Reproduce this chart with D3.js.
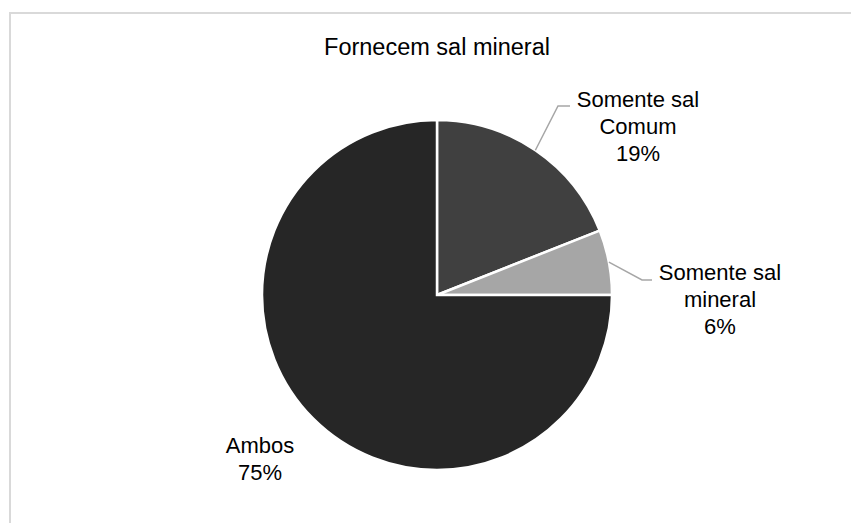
<!DOCTYPE html>
<html>
<head>
<meta charset="utf-8">
<script src="https://cdn.jsdelivr.net/npm/d3@7"></script>
<style>
  body { margin: 0; background: #fff; }
  text { font-family: "Liberation Sans", Arial, sans-serif; fill: #000; }
</style>
</head>
<body>
<script>
// Data
var categories = ["Somente sal Comum", "Somente sal mineral", "Ambos"];
var labelLines = [["Somente sal", "Comum"], ["Somente sal", "mineral"], ["Ambos"]];
var values = [19, 6, 75];
var colors = ["#404040", "#a6a6a6", "#262626"];

var width = 851, height = 523;
var cx = 437, cy = 295, radius = 175;

// label placement (center x, first baseline y) and whether a leader line is drawn
var labelPos = [
  { x: 638, y: 107, leader: true, elbow: [558, 106], end: 570 },
  { x: 720, y: 280, leader: true, elbow: [642, 280], end: 652 },
  { x: 260, y: 453, leader: false }
];
var lineH = 27;

var svg = d3.select("body")
  .append("svg")
  .attr("width", width)
  .attr("height", height);

// chart frame (only top and left edges visible)
svg.append("path")
  .attr("d", "M10,523 L10,13 L851,13")
  .style("fill", "none")
  .style("stroke", "#d9d9d9")
  .style("stroke-width", 2);

svg.append("text")
  .attr("x", cx)
  .attr("y", 55)
  .attr("text-anchor", "middle")
  .style("font-size", "23.5px")
  .text("Fornecem sal mineral");

var pie = d3.pie().sort(null).value(function(d) { return d; });
var arc = d3.arc().innerRadius(0).outerRadius(radius);
var arcs = pie(values);

var g = svg.append("g")
  .attr("transform", "translate(" + cx + "," + cy + ")");

g.selectAll("path.slice")
  .data(arcs)
  .enter()
  .append("path")
  .attr("class", "slice")
  .attr("d", arc)
  .style("fill", function(d, i) { return colors[i]; })
  .style("stroke", "#fff")
  .style("stroke-width", 2.5)
  .style("stroke-linejoin", "miter");

// leader lines
arcs.forEach(function(d, i) {
  var lp = labelPos[i];
  if (!lp.leader) return;
  var a = (d.startAngle + d.endAngle) / 2;
  var px = cx + radius * Math.sin(a),
    py = cy - radius * Math.cos(a);
  svg.append("polyline")
    .attr("points", [[px, py], lp.elbow, [lp.end, lp.elbow[1]]].map(function(p) { return p.join(","); }).join(" "))
    .style("fill", "none")
    .style("stroke", "#a6a6a6")
    .style("stroke-width", 1.5);
});

// labels
arcs.forEach(function(d, i) {
  var lp = labelPos[i];
  var lines = labelLines[i].concat([Math.round(values[i]) + "%"]);
  var t = svg.append("text")
    .attr("text-anchor", "middle")
    .style("font-size", "22px");
  lines.forEach(function(s, k) {
    t.append("tspan")
      .attr("x", lp.x)
      .attr("y", lp.y + k * lineH)
      .text(s);
  });
});
</script>
</body>
</html>
